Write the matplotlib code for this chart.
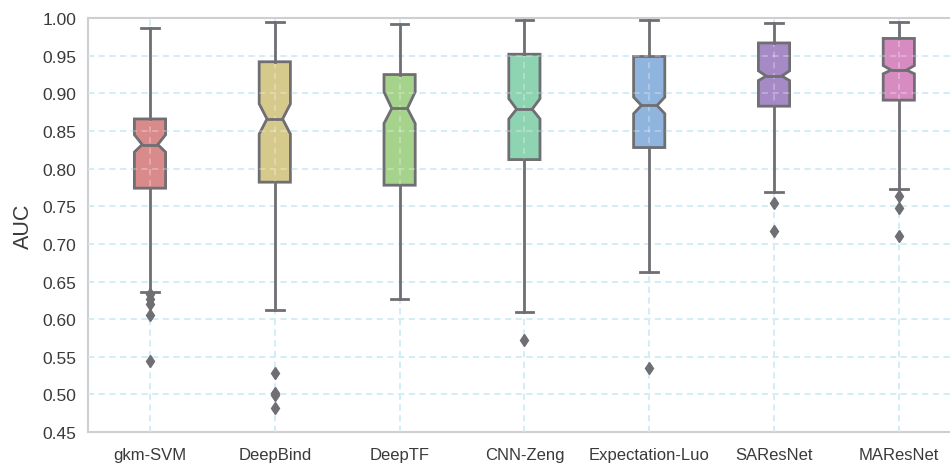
import matplotlib
matplotlib.use("Agg")
import matplotlib.pyplot as plt
from matplotlib.ticker import MultipleLocator, FormatStrFormatter

methods = ["gkm-SVM", "DeepBind", "DeepTF", "CNN-Zeng", "Expectation-Luo", "SAResNet", "MAResNet"]
whislo = [0.636, 0.612, 0.627, 0.610, 0.662, 0.769, 0.773]
q1     = [0.774, 0.782, 0.778, 0.812, 0.828, 0.883, 0.891]
med    = [0.832, 0.866, 0.880, 0.879, 0.884, 0.923, 0.931]
q3     = [0.866, 0.942, 0.925, 0.952, 0.949, 0.967, 0.973]
whishi = [0.987, 0.995, 0.992, 0.997, 0.997, 0.994, 0.995]
cilo   = [0.822, 0.846, 0.860, 0.866, 0.873, 0.917, 0.926]
cihi   = [0.845, 0.886, 0.902, 0.893, 0.895, 0.930, 0.937]
fliers = [
    [0.633, 0.627, 0.620, 0.606, 0.545],
    [0.528, 0.502, 0.499, 0.482],
    [],
    [0.572],
    [0.535],
    [0.754, 0.717],
    [0.764, 0.748, 0.711],
]
colors = ["#d98a8b", "#d5ca8b", "#a6d38b", "#8fd4b2", "#8fb5de", "#a68ac6", "#d68cc1"]

plt.rcParams['font.family'] = ['Liberation Sans', 'DejaVu Sans']

fig = plt.figure(figsize=(9.5, 4.64), dpi=100)
ax = fig.add_axes([0.0922, 0.0668, 0.9196, 0.892])

stats = []
for i, m in enumerate(methods):
    stats.append(dict(label=m, whislo=whislo[i], q1=q1[i], med=med[i], q3=q3[i],
                      whishi=whishi[i], cilo=cilo[i], cihi=cihi[i], fliers=fliers[i]))

edge = "#6e6e73"
pos = list(range(len(methods)))
bp = ax.bxp(stats, positions=pos, widths=0.25, shownotches=True, patch_artist=True,
            capwidths=0.14,
            boxprops=dict(edgecolor=edge, linewidth=2),
            whiskerprops=dict(color=edge, linewidth=2),
            capprops=dict(color=edge, linewidth=2),
            medianprops=dict(color=edge, linewidth=2),
            flierprops=dict(marker='d', markerfacecolor=edge, markeredgecolor=edge, markersize=6))
for patch, c in zip(bp['boxes'], colors):
    patch.set_facecolor(c)
    patch.set_zorder(2)
for key in ['whiskers', 'caps', 'medians', 'fliers']:
    for ln in bp[key]:
        ln.set_zorder(4)

# grid under the boxes
ax.set_axisbelow(True)
ax.grid(True, color="#b3e0f2", linestyle=(0, (4, 3)), linewidth=1.1)
# lighter overlay of the grid on top of boxes
for y in [0.50, 0.55, 0.60, 0.65, 0.70, 0.75, 0.80, 0.85, 0.90, 0.95]:
    ax.axhline(y, color="white", alpha=0.35, linestyle=(0, (4, 3)), linewidth=1.1, zorder=3)
for x in pos:
    ax.axvline(x, color="white", alpha=0.35, linestyle=(0, (4, 3)), linewidth=1.1, zorder=3)

ax.set_xlim(-0.5, 6.5)
ax.set_ylim(0.45, 1.00)
ax.yaxis.set_major_locator(MultipleLocator(0.05))
ax.yaxis.set_major_formatter(FormatStrFormatter('%.2f'))
ax.set_xticks(pos)
ax.set_xticklabels(methods)
ax.tick_params(axis='both', length=0, colors="#3a3a3a", labelsize=12.5, pad=8)
ax.tick_params(axis='x', labelsize=12, pad=11)
ax.set_ylabel("AUC", fontsize=15.5, color="#3a3a3a", labelpad=6)
for s in ax.spines.values():
    s.set_color("#cfcfd3")
    s.set_linewidth(1.5)

fig.savefig("out.png", dpi=100)
